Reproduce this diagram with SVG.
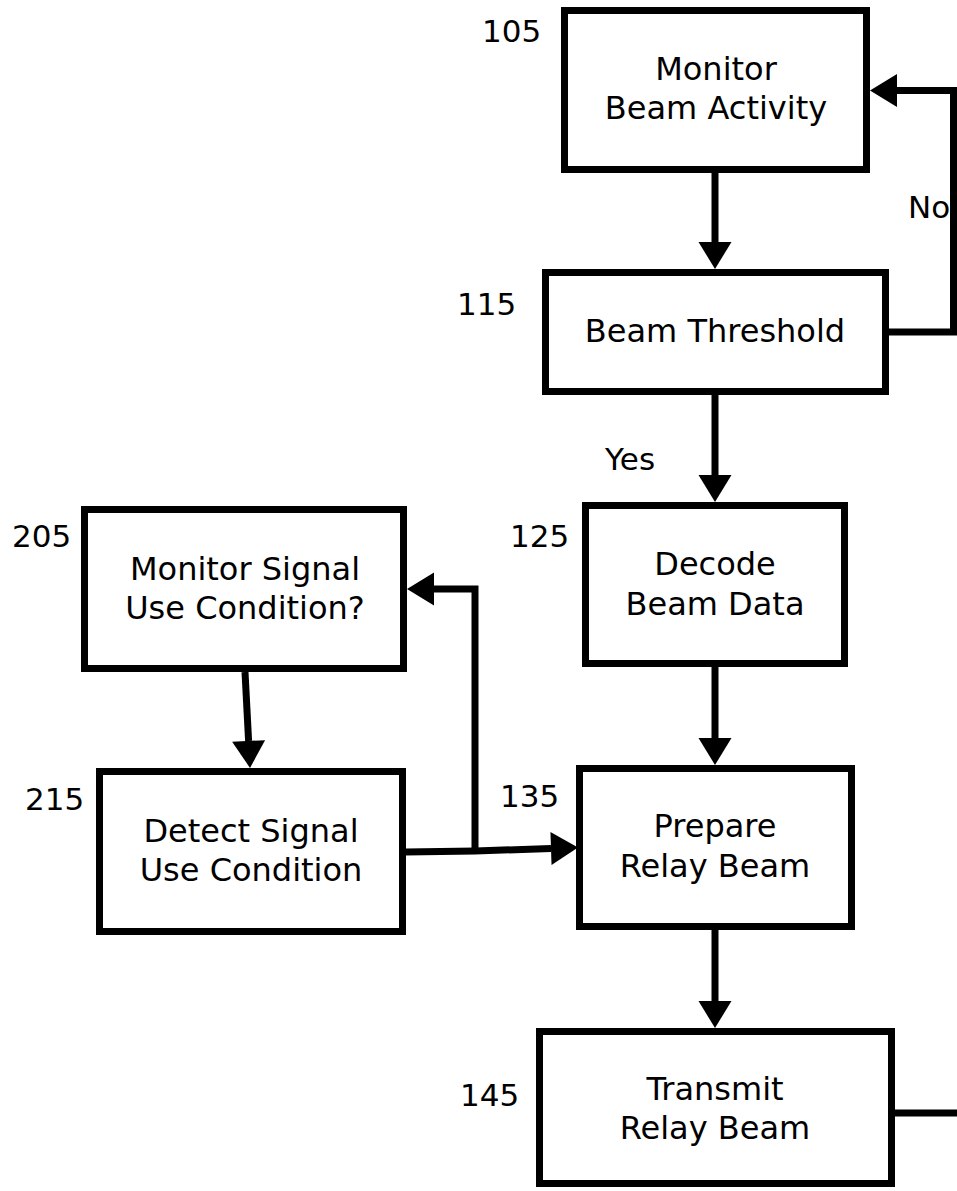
<svg xmlns="http://www.w3.org/2000/svg" width="957" height="1191" viewBox="0 0 957 1191">
<style>
.box{fill:#fff;stroke:#000;stroke-width:7}
.t{font-family:"DejaVu Sans","Liberation Sans",sans-serif;font-size:32px;fill:#000;text-anchor:middle}
.lbl{font-family:"DejaVu Sans","Liberation Sans",sans-serif;font-size:31px;fill:#000}
.c{fill:none;stroke:#000;stroke-width:7}
</style>
<defs>
<marker id="ah" markerUnits="userSpaceOnUse" markerWidth="28" markerHeight="34" refX="0" refY="16.5" orient="auto" overflow="visible">
<path d="M0,0 L27,16.5 L0,33 z" fill="#000"/>
</marker>
</defs>
<rect width="957" height="1191" fill="#fff"/>
<g id="connectors">
<path class="c" d="M715,173 V242" marker-end="url(#ah)"/>
<path class="c" d="M889,332 H953.5 V90.5 H897" marker-end="url(#ah)"/>
<path class="c" d="M715,395 V475" marker-end="url(#ah)"/>
<path class="c" d="M715,667 V738" marker-end="url(#ah)"/>
<path class="c" d="M715,930 V1001" marker-end="url(#ah)"/>
<path class="c" d="M245,672 L248.6,741" marker-end="url(#ah)"/>
<path class="c" d="M406,852 L475,851 L551,848.5" marker-end="url(#ah)"/>
<path class="c" d="M475,851 V589 H434" marker-end="url(#ah)"/>
<path class="c" d="M895,1113 H957"/>
<text class="lbl" x="908" y="218">No</text>
<text class="lbl" x="605" y="470">Yes</text>
</g>
<g id="n105">
<rect class="box" x="564.5" y="10.5" width="302" height="159"/>
<text class="t" x="716" y="80">Monitor</text>
<text class="t" x="716" y="119">Beam Activity</text>
<text class="lbl" x="482" y="42">105</text>
</g>
<g id="n115">
<rect class="box" x="545.5" y="272.5" width="340" height="119"/>
<text class="t" x="715" y="342">Beam Threshold</text>
<text class="lbl" x="457" y="315">115</text>
</g>
<g id="n125">
<rect class="box" x="585.5" y="505.5" width="259" height="158"/>
<text class="t" x="715" y="575">Decode</text>
<text class="t" x="715" y="615">Beam Data</text>
<text class="lbl" x="510" y="547">125</text>
</g>
<g id="n135">
<rect class="box" x="579.5" y="768.5" width="272" height="158"/>
<text class="t" x="715" y="837">Prepare</text>
<text class="t" x="715" y="877">Relay Beam</text>
<text class="lbl" x="500" y="807">135</text>
</g>
<g id="n145">
<rect class="box" x="539.5" y="1031.5" width="352" height="152"/>
<text class="t" x="715" y="1100">Transmit</text>
<text class="t" x="715" y="1139">Relay Beam</text>
<text class="lbl" x="460" y="1106">145</text>
</g>
<g id="n205">
<rect class="box" x="84.5" y="509.5" width="319" height="159"/>
<text class="t" x="245" y="580">Monitor Signal</text>
<text class="t" x="245" y="619">Use Condition?</text>
<text class="lbl" x="12" y="547">205</text>
</g>
<g id="n215">
<rect class="box" x="99.5" y="771.5" width="303" height="160"/>
<text class="t" x="251" y="842">Detect Signal</text>
<text class="t" x="251" y="881">Use Condition</text>
<text class="lbl" x="25" y="810">215</text>
</g>
</svg>
